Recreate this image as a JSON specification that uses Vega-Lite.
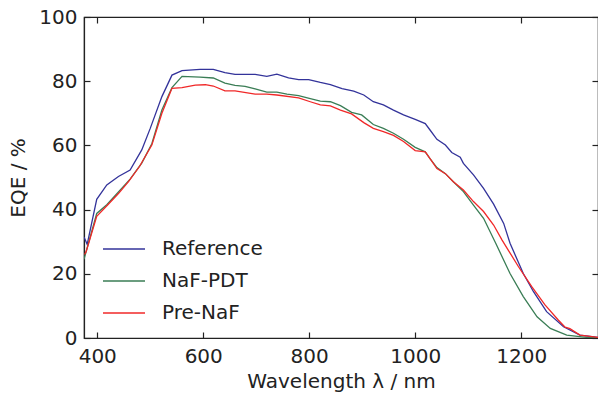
{
  "$schema": "https://vega.github.io/schema/vega-lite/v6.json",
  "width": 514,
  "height": 321,
  "autosize": {"type": "none"},
  "padding": {"left": 84, "top": 17, "right": 0, "bottom": 56},
  "config": {
    "font": "DejaVu Sans",
    "view": {"stroke": "#222222", "strokeWidth": 1.2},
    "axis": {"grid": false, "domainColor": "#222222", "tickColor": "#222222", "labelColor": "#222222", "titleColor": "#222222", "labelFontSize": 20, "titleFontSize": 20, "titleFontWeight": "normal", "tickSize": -6, "tickWidth": 1.2, "domainWidth": 1.2, "format": "d"}
  },
  "datasets": {
    "eqe": [
      {"s": "Reference", "w": 375, "q": 31.5},
      {"s": "Reference", "w": 381, "q": 29.2},
      {"s": "Reference", "w": 399, "q": 43.2},
      {"s": "Reference", "w": 418, "q": 47.7},
      {"s": "Reference", "w": 440, "q": 50.3},
      {"s": "Reference", "w": 462, "q": 52.3},
      {"s": "Reference", "w": 484, "q": 58.6},
      {"s": "Reference", "w": 500, "q": 65.3},
      {"s": "Reference", "w": 522, "q": 75.2},
      {"s": "Reference", "w": 541, "q": 81.9},
      {"s": "Reference", "w": 560, "q": 83.3},
      {"s": "Reference", "w": 594, "q": 83.7},
      {"s": "Reference", "w": 619, "q": 83.7},
      {"s": "Reference", "w": 641, "q": 82.7},
      {"s": "Reference", "w": 660, "q": 82.1},
      {"s": "Reference", "w": 698, "q": 82.1},
      {"s": "Reference", "w": 720, "q": 81.5},
      {"s": "Reference", "w": 739, "q": 82.2},
      {"s": "Reference", "w": 761, "q": 81.0},
      {"s": "Reference", "w": 780, "q": 80.5},
      {"s": "Reference", "w": 799, "q": 80.5},
      {"s": "Reference", "w": 821, "q": 79.6},
      {"s": "Reference", "w": 840, "q": 78.9},
      {"s": "Reference", "w": 862, "q": 77.7},
      {"s": "Reference", "w": 884, "q": 76.9},
      {"s": "Reference", "w": 903, "q": 75.7},
      {"s": "Reference", "w": 921, "q": 73.6},
      {"s": "Reference", "w": 940, "q": 72.6},
      {"s": "Reference", "w": 959, "q": 71.0},
      {"s": "Reference", "w": 978, "q": 69.5},
      {"s": "Reference", "w": 1000, "q": 68.1},
      {"s": "Reference", "w": 1019, "q": 66.8},
      {"s": "Reference", "w": 1028, "q": 64.8},
      {"s": "Reference", "w": 1041, "q": 61.9},
      {"s": "Reference", "w": 1057, "q": 60.1},
      {"s": "Reference", "w": 1069, "q": 57.8},
      {"s": "Reference", "w": 1085, "q": 56.3},
      {"s": "Reference", "w": 1091, "q": 54.4},
      {"s": "Reference", "w": 1110, "q": 50.8},
      {"s": "Reference", "w": 1129, "q": 46.6},
      {"s": "Reference", "w": 1148, "q": 41.7},
      {"s": "Reference", "w": 1167, "q": 35.7},
      {"s": "Reference", "w": 1179, "q": 29.5},
      {"s": "Reference", "w": 1204, "q": 20.1},
      {"s": "Reference", "w": 1223, "q": 14.5},
      {"s": "Reference", "w": 1248, "q": 8.2},
      {"s": "Reference", "w": 1280, "q": 3.5},
      {"s": "Reference", "w": 1311, "q": 0.9},
      {"s": "Reference", "w": 1345, "q": 0.2},
      {"s": "NaF-PDT", "w": 375, "q": 24.5},
      {"s": "NaF-PDT", "w": 399, "q": 38.8},
      {"s": "NaF-PDT", "w": 418, "q": 41.5},
      {"s": "NaF-PDT", "w": 440, "q": 45.5},
      {"s": "NaF-PDT", "w": 462, "q": 49.5},
      {"s": "NaF-PDT", "w": 484, "q": 54.5},
      {"s": "NaF-PDT", "w": 503, "q": 60.5},
      {"s": "NaF-PDT", "w": 522, "q": 71.0},
      {"s": "NaF-PDT", "w": 541, "q": 78.0},
      {"s": "NaF-PDT", "w": 560, "q": 81.5},
      {"s": "NaF-PDT", "w": 594, "q": 81.3},
      {"s": "NaF-PDT", "w": 619, "q": 81.0},
      {"s": "NaF-PDT", "w": 641, "q": 79.4},
      {"s": "NaF-PDT", "w": 660, "q": 78.7},
      {"s": "NaF-PDT", "w": 679, "q": 78.4},
      {"s": "NaF-PDT", "w": 698, "q": 77.6},
      {"s": "NaF-PDT", "w": 720, "q": 76.6},
      {"s": "NaF-PDT", "w": 739, "q": 76.6},
      {"s": "NaF-PDT", "w": 758, "q": 76.0},
      {"s": "NaF-PDT", "w": 780, "q": 75.5},
      {"s": "NaF-PDT", "w": 802, "q": 74.6},
      {"s": "NaF-PDT", "w": 821, "q": 73.8},
      {"s": "NaF-PDT", "w": 840, "q": 73.6},
      {"s": "NaF-PDT", "w": 859, "q": 72.4},
      {"s": "NaF-PDT", "w": 880, "q": 70.3},
      {"s": "NaF-PDT", "w": 899, "q": 69.5},
      {"s": "NaF-PDT", "w": 921, "q": 66.5},
      {"s": "NaF-PDT", "w": 940, "q": 65.3},
      {"s": "NaF-PDT", "w": 959, "q": 63.8},
      {"s": "NaF-PDT", "w": 978, "q": 61.9},
      {"s": "NaF-PDT", "w": 1000, "q": 59.4},
      {"s": "NaF-PDT", "w": 1019, "q": 58.0},
      {"s": "NaF-PDT", "w": 1028, "q": 55.9},
      {"s": "NaF-PDT", "w": 1041, "q": 53.1},
      {"s": "NaF-PDT", "w": 1057, "q": 51.2},
      {"s": "NaF-PDT", "w": 1072, "q": 48.7},
      {"s": "NaF-PDT", "w": 1091, "q": 45.6},
      {"s": "NaF-PDT", "w": 1110, "q": 41.4},
      {"s": "NaF-PDT", "w": 1129, "q": 37.3},
      {"s": "NaF-PDT", "w": 1152, "q": 29.5},
      {"s": "NaF-PDT", "w": 1179, "q": 20.1},
      {"s": "NaF-PDT", "w": 1204, "q": 12.9},
      {"s": "NaF-PDT", "w": 1230, "q": 6.6},
      {"s": "NaF-PDT", "w": 1255, "q": 3.0},
      {"s": "NaF-PDT", "w": 1286, "q": 0.9},
      {"s": "NaF-PDT", "w": 1323, "q": 0.2},
      {"s": "NaF-PDT", "w": 1345, "q": 0.1},
      {"s": "Pre-NaF", "w": 376, "q": 26.0},
      {"s": "Pre-NaF", "w": 379, "q": 26.9},
      {"s": "Pre-NaF", "w": 399, "q": 37.9},
      {"s": "Pre-NaF", "w": 420, "q": 41.5},
      {"s": "Pre-NaF", "w": 440, "q": 45.0},
      {"s": "Pre-NaF", "w": 459, "q": 48.7},
      {"s": "Pre-NaF", "w": 480, "q": 53.5},
      {"s": "Pre-NaF", "w": 503, "q": 60.1},
      {"s": "Pre-NaF", "w": 522, "q": 70.0},
      {"s": "Pre-NaF", "w": 541, "q": 77.8},
      {"s": "Pre-NaF", "w": 560, "q": 78.0},
      {"s": "Pre-NaF", "w": 585, "q": 78.8},
      {"s": "Pre-NaF", "w": 604, "q": 78.9},
      {"s": "Pre-NaF", "w": 619, "q": 78.5},
      {"s": "Pre-NaF", "w": 641, "q": 77.0},
      {"s": "Pre-NaF", "w": 660, "q": 77.0},
      {"s": "Pre-NaF", "w": 698, "q": 76.0},
      {"s": "Pre-NaF", "w": 720, "q": 76.0},
      {"s": "Pre-NaF", "w": 739, "q": 75.7},
      {"s": "Pre-NaF", "w": 780, "q": 74.8},
      {"s": "Pre-NaF", "w": 802, "q": 73.6},
      {"s": "Pre-NaF", "w": 821, "q": 72.6},
      {"s": "Pre-NaF", "w": 840, "q": 72.3},
      {"s": "Pre-NaF", "w": 859, "q": 71.0},
      {"s": "Pre-NaF", "w": 880, "q": 69.8},
      {"s": "Pre-NaF", "w": 903, "q": 67.1},
      {"s": "Pre-NaF", "w": 921, "q": 65.3},
      {"s": "Pre-NaF", "w": 940, "q": 64.3},
      {"s": "Pre-NaF", "w": 959, "q": 63.1},
      {"s": "Pre-NaF", "w": 978, "q": 61.2},
      {"s": "Pre-NaF", "w": 1000, "q": 58.4},
      {"s": "Pre-NaF", "w": 1019, "q": 58.0},
      {"s": "Pre-NaF", "w": 1028, "q": 55.9},
      {"s": "Pre-NaF", "w": 1041, "q": 52.8},
      {"s": "Pre-NaF", "w": 1057, "q": 51.2},
      {"s": "Pre-NaF", "w": 1072, "q": 48.7},
      {"s": "Pre-NaF", "w": 1091, "q": 46.1},
      {"s": "Pre-NaF", "w": 1110, "q": 42.5},
      {"s": "Pre-NaF", "w": 1129, "q": 39.4},
      {"s": "Pre-NaF", "w": 1148, "q": 35.2},
      {"s": "Pre-NaF", "w": 1164, "q": 30.5},
      {"s": "Pre-NaF", "w": 1195, "q": 22.2},
      {"s": "Pre-NaF", "w": 1220, "q": 16.0},
      {"s": "Pre-NaF", "w": 1245, "q": 10.3},
      {"s": "Pre-NaF", "w": 1270, "q": 5.6},
      {"s": "Pre-NaF", "w": 1283, "q": 3.4},
      {"s": "Pre-NaF", "w": 1292, "q": 2.9},
      {"s": "Pre-NaF", "w": 1311, "q": 0.9},
      {"s": "Pre-NaF", "w": 1345, "q": 0.2}
    ]
  },
  "data": {"name": "eqe"},
  "resolve": {"axis": {"x": "independent", "y": "independent"}},
  "layer": [
    {
      "mark": {"type": "line", "strokeWidth": 1.3, "clip": true},
      "encoding": {
        "x": {
          "field": "w", "type": "quantitative",
          "scale": {"domain": [375, 1345], "nice": false, "zero": false},
          "axis": {"values": [400, 600, 800, 1000, 1200], "title": "Wavelength λ / nm", "labelPadding": 14, "titlePadding": 5}
        },
        "y": {
          "field": "q", "type": "quantitative",
          "scale": {"domain": [0, 100], "nice": false},
          "axis": {"values": [0, 20, 40, 60, 80, 100], "title": "EQE / %", "labelPadding": 13, "titlePadding": 10}
        },
        "color": {
          "field": "s", "type": "nominal",
          "scale": {"domain": ["Reference", "NaF-PDT", "Pre-NaF"], "range": ["#33339a", "#3a7d55", "#f02828"]},
          "legend": {
            "title": null, "orient": "none", "legendX": 18, "legendY": 210,
            "symbolType": "stroke", "symbolSize": 1764, "symbolStrokeWidth": 1.3,
            "labelFontSize": 20, "labelColor": "#222222", "labelOffset": 16,
            "rowPadding": -12
          }
        }
      }
    },
    {
      "mark": {"type": "line", "opacity": 0, "clip": true},
      "encoding": {
        "x": {
          "field": "w", "type": "quantitative",
          "axis": {"orient": "top", "values": [400, 600, 800, 1000, 1200], "labels": false, "title": null, "domain": false}
        },
        "y": {
          "field": "q", "type": "quantitative",
          "axis": {"orient": "right", "values": [0, 20, 40, 60, 80, 100], "labels": false, "title": null, "domain": false}
        },
        "detail": {"field": "s"}
      }
    }
  ]
}
